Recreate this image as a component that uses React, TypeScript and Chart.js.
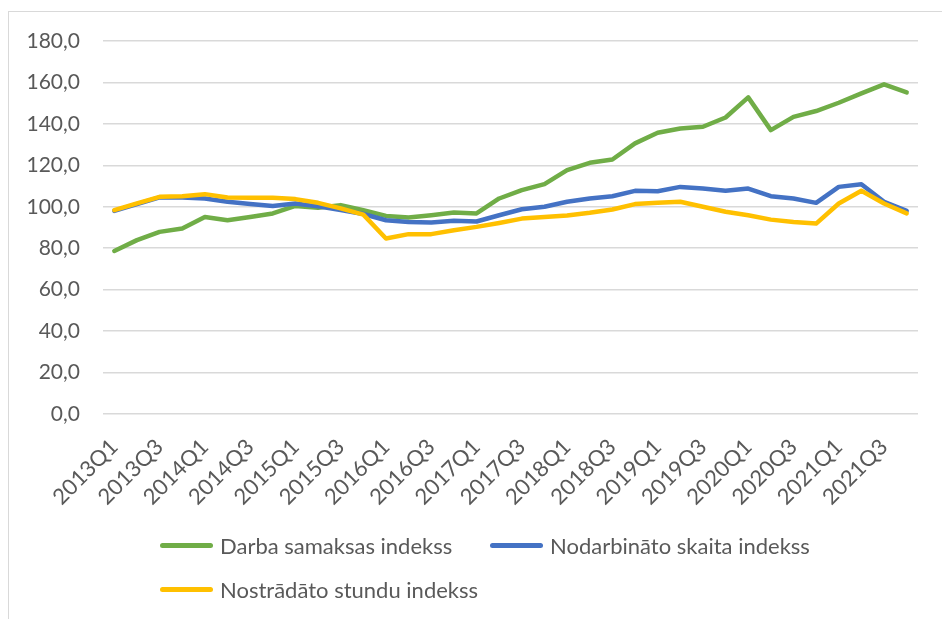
import React, { useEffect, useRef } from "react";
import { Chart, registerables } from "chart.js";

Chart.register(...registerables);

const categories: string[] = [
  "2013Q1", "2013Q2", "2013Q3", "2013Q4",
  "2014Q1", "2014Q2", "2014Q3", "2014Q4",
  "2015Q1", "2015Q2", "2015Q3", "2015Q4",
  "2016Q1", "2016Q2", "2016Q3", "2016Q4",
  "2017Q1", "2017Q2", "2017Q3", "2017Q4",
  "2018Q1", "2018Q2", "2018Q3", "2018Q4",
  "2019Q1", "2019Q2", "2019Q3", "2019Q4",
  "2020Q1", "2020Q2", "2020Q3", "2020Q4",
  "2021Q1", "2021Q2", "2021Q3", "2021Q4",
];

const darbaSamaksas: number[] = [
  78.7, 83.9, 87.9, 89.5, 95.1, 93.5, 95.1, 96.8, 100.4, 99.5, 100.8, 98.3,
  95.6, 94.8, 95.9, 97.2, 96.8, 104.0, 108.0, 110.9, 117.7, 121.2, 122.8, 130.6,
  135.7, 137.8, 138.6, 143.1, 152.8, 137.0, 143.4, 146.2, 150.2, 154.7, 159.1, 155.2,
];

const nodarbinato: number[] = [
  98.0, 101.3, 104.5, 104.5, 104.0, 102.4, 101.3, 100.4, 101.6, 100.2, 98.4, 96.5,
  93.5, 92.6, 92.4, 93.2, 92.9, 95.9, 98.8, 100.0, 102.4, 104.0, 105.1, 107.7,
  107.5, 109.6, 108.8, 107.7, 108.8, 105.1, 104.0, 101.9, 109.6, 110.9, 102.4, 98.0,
];

const nostradato: number[] = [
  98.4, 101.6, 104.8, 105.1, 106.1, 104.5, 104.3, 104.3, 103.7, 101.9, 99.2, 96.2,
  84.7, 86.8, 86.8, 88.7, 90.3, 92.2, 94.3, 95.1, 95.8, 97.1, 98.7, 101.3,
  101.9, 102.4, 100.0, 97.6, 95.9, 93.8, 92.7, 91.9, 101.6, 107.7, 101.6, 96.8,
];

const seriesNames: string[] = [
  "Darba samaksas indekss",
  "Nodarbināto skaita indekss",
  "Nostrādāto stundu indekss",
];
const seriesColors: string[] = ["#70AD47", "#4472C4", "#FFC000"];

const yMin = 0;
const yMax = 180;
const yStep = 20;

const TEXT_COLOR = "#595959";
const FONT = "Lato, 'Noto Sans', sans-serif";

export default function App() {
  const canvasRef = useRef<HTMLCanvasElement | null>(null);

  useEffect(() => {
    document.body.style.margin = "0";
    document.body.style.overflow = "hidden";
    const canvas = canvasRef.current;
    if (!canvas) return;
    const values = [darbaSamaksas, nodarbinato, nostradato];
    const chart = new Chart(canvas, {
      type: "line",
      data: {
        labels: categories,
        datasets: values.map((v, i) => ({
          label: seriesNames[i],
          data: v,
          borderColor: seriesColors[i],
          backgroundColor: seriesColors[i],
          borderWidth: 4.5,
          pointRadius: 0,
          pointHoverRadius: 0,
          tension: 0,
          borderCapStyle: "round" as const,
          borderJoinStyle: "round" as const,
          fill: false,
          order: 3 - i,
        })),
      },
      options: {
        animation: false,
        responsive: false,
        maintainAspectRatio: false,
        layout: { padding: { left: 0, right: 24, top: 41, bottom: 100 } },
        plugins: {
          legend: { display: false },
          tooltip: { enabled: false },
        },
        scales: {
          x: {
            type: "category",
            offset: true,
            grid: { display: false },
            border: { display: false },
            afterFit: (scale: any) => {
              scale.height = 105;
            },
            ticks: {
              autoSkip: false,
              minRotation: 45,
              maxRotation: 45,
              padding: 12,
              color: TEXT_COLOR,
              font: { family: FONT, size: 22 },
              callback: (_v: any, idx: number) => (idx % 2 === 0 ? categories[idx] : ""),
            },
          },
          y: {
            min: yMin,
            max: yMax,
            border: { display: false },
            grid: { color: "#d9d9d9", lineWidth: 1.5, drawTicks: false },
            afterFit: (scale: any) => {
              scale.width = 103;
            },
            ticks: {
              stepSize: yStep,
              padding: 23,
              color: TEXT_COLOR,
              font: { family: FONT, size: 21 },
              callback: (v: any) => Number(v).toFixed(1).replace(".", ","),
            },
          },
        },
      },
    });
    return () => chart.destroy();
  }, []);

  const legendPos = [
    { left: 160, top: 545 },
    { left: 490, top: 545 },
    { left: 160, top: 589 },
  ];

  return (
    <div style={{ position: "relative", width: 942, height: 619, overflow: "hidden", background: "#fff" }}>
      <div
        style={{
          position: "absolute",
          left: 8,
          top: 11,
          width: 1000,
          height: 700,
          borderLeft: "1.5px solid #d9d9d9",
          borderTop: "1.5px solid #d9d9d9",
        }}
      />
      <canvas
        ref={canvasRef}
        width={942}
        height={619}
        style={{ position: "absolute", left: 0, top: 0, width: 942, height: 619 }}
      />
      {seriesNames.map((name, i) => (
        <div
          key={name}
          style={{
            position: "absolute",
            left: legendPos[i].left,
            top: legendPos[i].top - 15,
            height: 30,
            display: "flex",
            alignItems: "center",
            fontFamily: FONT,
            fontSize: 22,
            color: TEXT_COLOR,
            whiteSpace: "nowrap",
          }}
        >
          <span
            style={{
              display: "inline-block",
              width: 53,
              height: 5,
              borderRadius: 3,
              background: seriesColors[i],
              marginRight: 7,
            }}
          />
          <span>{name}</span>
        </div>
      ))}
    </div>
  );
}
